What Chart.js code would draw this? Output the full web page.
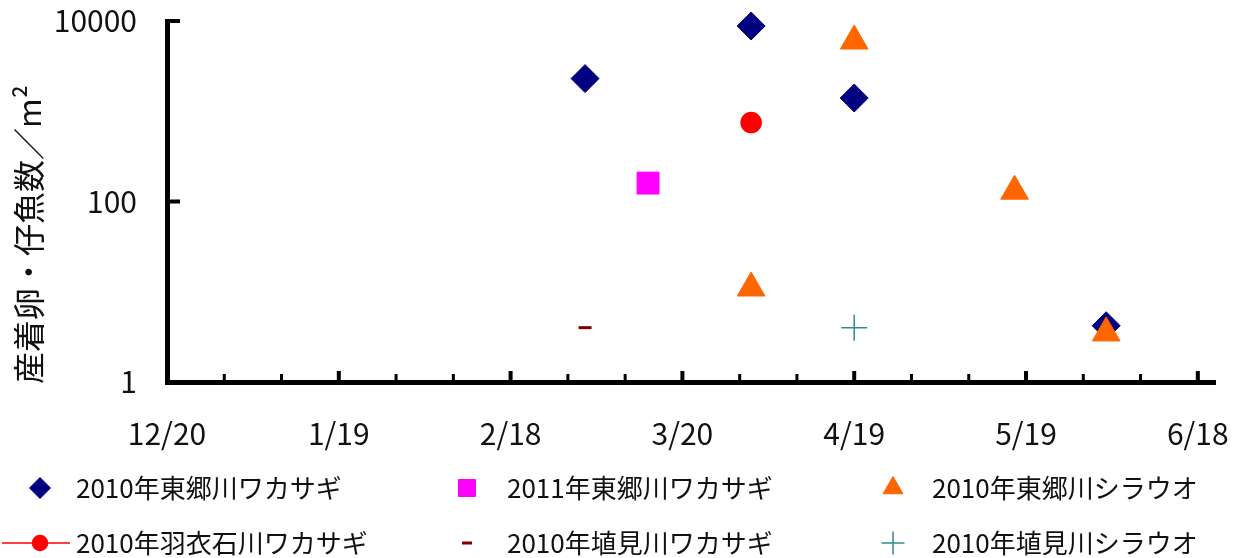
<!DOCTYPE html>
<html lang="ja">
<head>
<meta charset="utf-8">
<title>産着卵・仔魚数</title>
<script src="https://cdn.jsdelivr.net/npm/chart.js@4/dist/chart.umd.min.js"></script>
<style>
  html, body { margin: 0; padding: 0; background: #fff; }
  #wrap { width: 1241px; height: 558px; position: relative; }
</style>
</head>
<body>
<div id="wrap"><canvas id="c" width="1241" height="558"></canvas></div>
<script>
// Axis labels (every 30 days starting 12/20) and y-axis ticks
const tickLabels = ['12/20', '1/19', '2/18', '3/20', '4/19', '5/19', '6/18'];
const yTicks = [1, 100, 10000];

// Survey dates (M/D) and counts per m² for each series
const togoWakasagi2010Dates = ['3/3', '4/1', '4/19', '6/2'];
const togoWakasagi2010Values = [2300, 8800, 1400, 4.2];

const togoWakasagi2011Dates = ['3/14'];
const togoWakasagi2011Values = [160];

const togoShirauo2010Dates = ['4/1', '4/19', '5/17', '6/2'];
const togoShirauo2010Values = [11, 6000, 130, 3.5];

const hagoromoWakasagi2010Dates = ['4/1'];
const hagoromoWakasagi2010Values = [750];

const hanamiWakasagi2010Dates = ['3/3'];
const hanamiWakasagi2010Values = [4];

const hanamiShirauo2010Dates = ['4/19'];
const hanamiShirauo2010Values = [4];

const seriesNames = [
  '2010年東郷川ワカサギ', '2011年東郷川ワカサギ', '2010年東郷川シラウオ',
  '2010年羽衣石川ワカサギ', '2010年埴見川ワカサギ', '2010年埴見川シラウオ'
];

// days elapsed since 12/20 on a non-leap calendar
const monthStart = { 12: -19, 1: 12, 2: 43, 3: 71, 4: 102, 5: 132, 6: 163 };
function dayOf(md) {
  const [m, d] = md.split('/').map(Number);
  return monthStart[m] + d - 1;
}
function pts(dates, values) {
  return dates.map((d, i) => ({ x: dayOf(d), y: values[i] }));
}

const FONT = '"Noto Sans CJK JP", "Noto Sans", sans-serif';
const TEXT = '#111';

const datasets = [
  { label: seriesNames[0], data: pts(togoWakasagi2010Dates, togoWakasagi2010Values),
    pointStyle: 'rectRot', pointRadius: 14, backgroundColor: '#000080', borderColor: '#000080',
    borderWidth: 1, order: 2, legendRadius: 10.5 },
  { label: seriesNames[1], data: pts(togoWakasagi2011Dates, togoWakasagi2011Values),
    pointStyle: 'rect', pointRadius: 15.5, backgroundColor: '#FF00FF', borderColor: '#FF00FF',
    borderWidth: 1, order: 1, legendRadius: 12 },
  { label: seriesNames[2], data: pts(togoShirauo2010Dates, togoShirauo2010Values),
    pointStyle: 'triangle', pointRadius: 16, backgroundColor: '#FF6600', borderColor: '#FF6600',
    borderWidth: 1, order: 0, legendRadius: 11.5 },
  { label: seriesNames[3], data: pts(hagoromoWakasagi2010Dates, hagoromoWakasagi2010Values),
    pointStyle: 'circle', pointRadius: 10, backgroundColor: '#FF0000', borderColor: '#FF0000',
    borderWidth: 1.5, showLine: true, order: 1, legendRadius: 7.5, legendLine: true },
  { label: seriesNames[4], data: pts(hanamiWakasagi2010Dates, hanamiWakasagi2010Values),
    pointStyle: 'line', pointRadius: 6.5, backgroundColor: '#800000', borderColor: '#800000',
    borderWidth: 3, pointBorderWidth: 3, order: 1, legendRadius: 5 },
  { label: seriesNames[5], data: pts(hanamiShirauo2010Dates, hanamiShirauo2010Values),
    pointStyle: 'cross', pointRadius: 13, backgroundColor: '#2F8F8F', borderColor: '#2F8F8F',
    borderWidth: 1.5, pointBorderWidth: 1.5, order: 1, legendRadius: 11.5 }
].map(ds => Object.assign({ clip: false, showLine: false }, ds));

// Inward tick marks on both axes
const innerTicks = {
  id: 'innerTicks',
  afterDraw(chart) {
    const { ctx, chartArea: a } = chart;
    const xs = chart.scales.x, ys = chart.scales.y;
    ctx.save();
    ctx.fillStyle = '#000';
    xs.ticks.forEach(t => {
      if (t.value === 0) return;
      const px = xs.getPixelForValue(t.value);
      const major = t.value % 30 === 0;
      const w = major ? 4 : 3, h = major ? 11 : 8;
      ctx.fillRect(px - w / 2, a.bottom - h, w, h);
    });
    ys.ticks.forEach(t => {
      if (t.value === yTicks[0]) return;
      const py = ys.getPixelForValue(t.value);
      ctx.fillRect(a.left, py - 2, 13, 4);
    });
    ctx.restore();
  }
};

// Rotated y-axis title
const yTitle = {
  id: 'yTitle',
  afterDraw(chart) {
    const { ctx, chartArea: a } = chart;
    ctx.save();
    ctx.translate(29, a.bottom + 2);
    ctx.rotate(-Math.PI / 2);
    ctx.font = '32px ' + FONT;
    ctx.fillStyle = TEXT;
    ctx.textAlign = 'left';
    ctx.textBaseline = 'middle';
    ctx.fillText('産着卵・仔魚数／m²', 0, 0);
    ctx.restore();
  }
};

// Three-column legend under the plot
const gridLegend = {
  id: 'gridLegend',
  afterDraw(chart) {
    const { ctx } = chart;
    const markX = [40, 467, 893];
    const textX = [76, 507, 932];
    const rowY = [488, 543];
    ctx.save();
    chart.data.datasets.forEach((ds, i) => {
      const col = i % 3, row = Math.floor(i / 3);
      const mx = markX[col], my = rowY[row];
      if (ds.legendLine) {
        ctx.strokeStyle = ds.borderColor;
        ctx.lineWidth = 1.5;
        ctx.beginPath();
        ctx.moveTo(2, my);
        ctx.lineTo(70, my);
        ctx.stroke();
      }
      ctx.fillStyle = ds.backgroundColor;
      ctx.strokeStyle = ds.borderColor;
      ctx.lineWidth = ds.pointBorderWidth || ds.borderWidth;
      Chart.helpers.drawPoint(ctx, {
        pointStyle: ds.pointStyle, radius: ds.legendRadius,
        borderWidth: ds.pointBorderWidth || ds.borderWidth, rotation: 0
      }, mx, my);
      ctx.fillStyle = TEXT;
      ctx.font = '26px ' + FONT;
      ctx.textAlign = 'left';
      ctx.textBaseline = 'middle';
      ctx.fillText(ds.label, textX[col], my);
    });
    ctx.restore();
  }
};

new Chart(document.getElementById('c'), {
  type: 'scatter',
  data: { datasets },
  options: {
    responsive: false,
    animation: false,
    events: [],
    layout: { padding: { left: 0, top: 21, right: 26, bottom: 0 } },
    plugins: { legend: { display: false }, tooltip: { enabled: false } },
    scales: {
      x: {
        type: 'linear',
        min: 0,
        max: 183,
        afterFit(s) { s.height = 176; s.paddingLeft = 0; s.paddingRight = 0; },
        grid: { display: true, drawOnChartArea: false, drawTicks: false },
        border: { display: true, color: '#000', width: 5 },
        ticks: {
          stepSize: 10,
          includeBounds: false,
          autoSkip: false,
          maxRotation: 0,
          padding: 34,
          color: TEXT,
          font: { family: FONT, size: 30 },
          callback: v => (v % 30 === 0 ? tickLabels[v / 30] : '')
        }
      },
      y: {
        type: 'logarithmic',
        min: 1,
        max: 10000,
        afterFit(s) { s.width = 167; s.paddingTop = 0; s.paddingBottom = 0; },
        afterBuildTicks(s) { s.ticks = yTicks.map(v => ({ value: v })); },
        grid: { display: true, drawOnChartArea: false, drawTicks: false },
        border: { display: true, color: '#000', width: 5 },
        ticks: {
          padding: 30,
          color: TEXT,
          font: { family: FONT, size: 30 },
          callback: v => String(v)
        }
      }
    }
  },
  plugins: [innerTicks, yTitle, gridLegend]
});
</script>
</body>
</html>
